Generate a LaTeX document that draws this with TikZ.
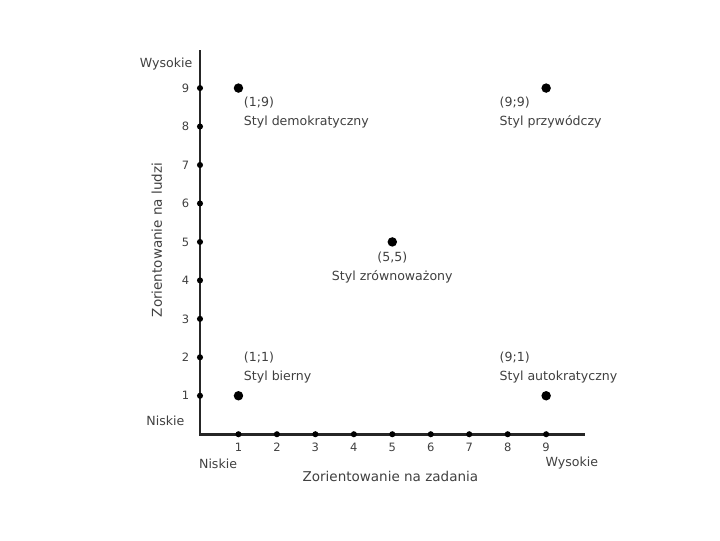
\documentclass[tikz,border=0pt]{standalone}
\usepackage{fontspec}
\setmainfont{DejaVu Sans}
\usetikzlibrary{positioning}
\tikzset{
  axis/.style   ={line width=2pt,black!85},
  tickdot/.style={circle,fill=black,inner sep=0pt,minimum size=4.5pt},
  pt/.style     ={circle,fill=black,inner sep=0pt,minimum size=7pt},
  lbl/.style    ={font=\fontsize{9.3}{14}\selectfont,text=black!75,align=left,inner sep=1pt},
  ttl/.style    ={font=\fontsize{10}{12}\selectfont,text=black!75,inner sep=1pt},
  num/.style    ={font=\fontsize{8.5}{10}\selectfont,text=black!75,inner sep=1pt},
}
\begin{document}
\begin{tikzpicture}
\useasboundingbox (-5.20,-2.76) rectangle (13.52,11.29);
% axes
\coordinate (O) at (0,0);
\coordinate (XE) at (10,0);
\coordinate (YE) at (0,10);
\draw[axis] (XE) -- (O) -- (YE);
% ticks
\foreach \i in {1,...,9}{
  \node[tickdot] (tx\i) at (\i,0) {};
  \node[tickdot] (ty\i) at (0,\i) {};
  \node[num,below=1mm of tx\i] {\i};
  \node[num,left=1.5mm of ty\i] {\i};
}
% axis labels
\node[lbl] (ywys) at (-0.88,9.62) {Wysokie};
\node[lbl] (ynis) at (-0.90,0.34) {Niskie};
\node[lbl] (xnis) at (0.47,-0.78) {Niskie};
\node[lbl] (xwys) at (9.67,-0.76) {Wysokie};
\node[ttl] (xtit) at (4.95,-1.09) {Zorientowanie na zadania};
\node[ttl,rotate=90] (ytit) at (-1.12,5.05) {Zorientowanie na ludzi};
% styles
\node[pt] (p19) at (1,9) {};
\node[pt] (p99) at (9,9) {};
\node[pt] (p55) at (5,5) {};
\node[pt] (p11) at (1,1) {};
\node[pt] (p91) at (9,1) {};
\node[lbl,anchor=north west] (l19) at (1.1,8.82) {(1;9)\\Styl demokratyczny};
\node[lbl,anchor=north west] (l99) at (7.75,8.82) {(9;9)\\Styl przywódczy};
\node[lbl,align=center,below=0.8mm of p55] (l55) {(5,5)\\Styl zrównoważony};
\node[lbl,anchor=north west] (l11) at (1.1,2.19) {(1;1)\\Styl bierny};
\node[lbl,anchor=north west] (l91) at (7.75,2.19) {(9;1)\\Styl autokratyczny};
\end{tikzpicture}
\end{document}
